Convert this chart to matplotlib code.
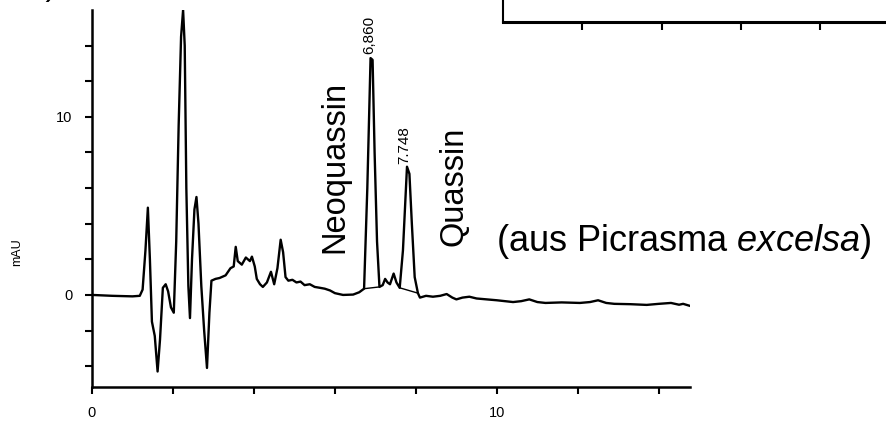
import matplotlib
matplotlib.use('Agg')
import matplotlib.pyplot as plt

plt.rcParams['font.family'] = ['Liberation Sans', 'DejaVu Sans']
plt.rcParams['mathtext.fontset'] = 'custom'
plt.rcParams['mathtext.rm'] = 'Liberation Sans'
plt.rcParams['mathtext.it'] = 'Liberation Sans:italic'

# retention time (min) and absorbance (mAU)
time_min = [0.0, 0.5, 1.0, 1.18, 1.25, 1.32, 1.38, 1.43, 1.48, 1.55, 1.62, 1.68,
            1.75, 1.82, 1.88, 1.95, 2.02, 2.08, 2.14, 2.2, 2.25, 2.29, 2.33, 2.38,
            2.42, 2.47, 2.53, 2.58, 2.63, 2.7, 2.77, 2.84, 2.9, 2.95, 3.05, 3.15,
            3.3, 3.42, 3.5, 3.55, 3.6, 3.7, 3.8, 3.9, 3.95, 4.02, 4.07, 4.15, 4.22,
            4.32, 4.42, 4.5, 4.58, 4.66, 4.72, 4.78, 4.85, 4.95, 5.05, 5.15, 5.25,
            5.38, 5.5, 5.63, 5.75, 5.88, 6.0, 6.2, 6.45, 6.6, 6.72, 6.8, 6.88, 6.93,
            6.98, 7.04, 7.1, 7.18, 7.24, 7.3, 7.36, 7.45, 7.52, 7.6, 7.68, 7.78,
            7.84, 7.9, 7.97, 8.05, 8.1, 8.25, 8.42, 8.6, 8.76, 8.9, 9.0, 9.15, 9.32,
            9.5, 9.75, 10.0, 10.2, 10.4, 10.6, 10.8, 11.0, 11.2, 11.6, 12.05, 12.3,
            12.5, 12.7, 12.9, 13.3, 13.7, 14.0, 14.3, 14.5, 14.6, 14.85]
mau = [0.0, -0.05, -0.08, -0.05, 0.3, 2.5, 4.9, 2.0, -1.5, -2.3, -4.3, -2.5,
       0.4, 0.6, 0.2, -0.7, -1.0, 3.0, 9.5, 14.5, 16.0, 14.0, 6.0, 0.5,
       -1.3, 2.0, 4.8, 5.5, 4.0, 0.5, -2.0, -4.1, -1.0, 0.8, 0.9, 0.95,
       1.1, 1.5, 1.6, 2.7, 1.9, 1.7, 2.1, 1.9, 2.15, 1.6, 0.9, 0.6, 0.45,
       0.7, 1.3, 0.6, 1.5, 3.1, 2.4, 1.0, 0.8, 0.85, 0.7, 0.75, 0.55,
       0.6, 0.45, 0.4, 0.35, 0.25, 0.1, 0.0, 0.02, 0.15, 0.35, 6.0, 13.3, 13.2,
       8.0, 3.0, 0.45, 0.55, 0.9, 0.7, 0.6, 1.2, 0.7, 0.4, 2.5, 7.2,
       6.8, 4.0, 1.0, 0.1, -0.15, -0.05, -0.1, -0.05, 0.05, -0.15, -0.25, -0.15, -0.1,
       -0.2, -0.25, -0.3, -0.35, -0.4, -0.35, -0.25, -0.4, -0.45, -0.42, -0.45, -0.4,
       -0.3, -0.45, -0.5, -0.52, -0.56, -0.5, -0.45, -0.55, -0.5, -0.67]

# peak annotations: retention time label, position, height
peak_labels = ['6,860', '7.748']
peak_times = [6.86, 7.70]
peak_tops = [13.4, 7.2]
# integration baselines under the two peaks
base_t = [[6.72, 7.1], [7.6, 8.05]]
base_y = [[0.35, 0.45], [0.4, 0.1]]

fig = plt.figure(figsize=(8.87, 4.25), dpi=100)
ax = fig.add_axes([92 / 887, 38 / 425, 598 / 887, 377 / 425])
ax.plot(time_min, mau, color='black', lw=1.7)
for bt, by in zip(base_t, base_y):
    ax.plot(bt, by, color='black', lw=1.0)

ax.set_xlim(0, 14.77)
ax.set_ylim(-5.17, 16.0)
ax.set_xticks(range(0, 15, 2))
ax.set_xticklabels(['0', '', '', '', '', '10', '', ''])
ax.set_yticks(range(-4, 16, 2))
ax.set_yticklabels(['', '', '0', '', '', '', '', '10', '', ''])
for s in ['top', 'right']:
    ax.spines[s].set_visible(False)
for s in ['left', 'bottom']:
    ax.spines[s].set_linewidth(1.8)
ax.tick_params(direction='out', length=5, width=1.5, labelsize=10.5, pad=9)

for lab, t, h in zip(peak_labels, peak_times, peak_tops):
    ax.text(t, h + 0.15, lab, rotation=90, ha='center', va='bottom', fontsize=11)

ax.text(6.0, 7.2, 'Neoquassin', rotation=90, ha='center', va='center', fontsize=23.5)
ax.text(8.95, 6.1, 'Quassin', rotation=90, ha='center', va='center', fontsize=23.5)
ax.text(9.99, 2.45, '(aus Picrasma $excelsa$)', ha='left', va='baseline', fontsize=26)

fig.text(17 / 887, 1 - 252 / 425, 'mAU', rotation=90, ha='center', va='center', fontsize=9)

# cut-off neighbouring panel at the top right
ax2 = fig.add_axes([503 / 887, 1 - 22 / 425, 1 - 503 / 887 + 0.01, 0.08])
ax2.set_xlim(0, 4.95)
ax2.set_ylim(0, 1)
ax2.set_xticks([1, 2, 3, 4])
ax2.set_xticklabels([])
ax2.set_yticks([])
for s in ['top', 'right']:
    ax2.spines[s].set_visible(False)
ax2.spines['bottom'].set_linewidth(2.2)
ax2.spines['left'].set_linewidth(1.5)
ax2.tick_params(direction='out', length=6, width=1.5)

# cut-off caption of the panel above, only its lowest pixels are in frame
fig.text(28 / 887, 1 + 5 / 425, 'b)', ha='left', va='baseline', fontsize=24)
fig.text(78 / 887, 1 + 7 / 425, 'Picrasma excelsa (Rinde)', ha='left', va='baseline',
         fontsize=24, color='#cccccc')

fig.savefig('out.png', dpi=100)
